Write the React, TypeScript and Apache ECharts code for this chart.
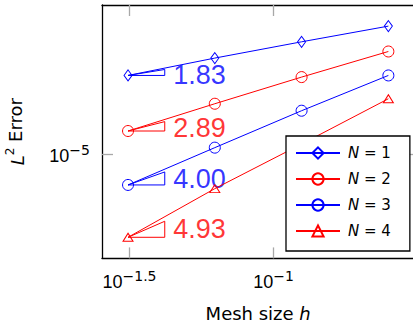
import React, { useEffect, useRef } from "react";
import * as echarts from "echarts";

// Mesh sizes h and L2 errors per polynomial degree N
const H = [1 / 32, 1 / 16, 1 / 8, 1 / 4];
const ERR_N1 = [3.12e-3, 1.107e-2, 3.63e-2, 0.114];
const ERR_N2 = [5.42e-5, 3.96e-4, 2.77e-3, 1.79e-2];
const ERR_N3 = [1.06e-6, 1.61e-5, 2.38e-4, 3.12e-3];
const ERR_N4 = [2.33e-8, 8.09e-7, 2.09e-5, 5.7e-4];
const RATES = [1.83, 2.89, 4.0, 4.93];
const SERIES_NAMES = ["N=1", "N=2", "N=3", "N=4"];
const X_TICKS = [-1.5, -1]; // log10 of h
const Y_TICKS = [-5]; // log10 of error

const BLUE = "#0000ff";
const RED = "#ff0000";
const FONT = "DejaVu Sans";
const FONT2 = "Liberation Sans";

export default function App() {
  const ref = useRef<HTMLDivElement>(null);
  useEffect(() => {
    if (!ref.current) return;
    const chart = echarts.init(ref.current, null, { renderer: "svg" });
    const errs = [ERR_N1, ERR_N2, ERR_N3, ERR_N4];
    const colors = [BLUE, RED, BLUE, RED];
    const symbols = ["diamond", "circle", "circle", "triangle"];
    const sizes: any[] = [[8, 11], 11, 11, [10, 8]];
    const lx = H.map((h) => Math.log10(h));
    const ly = errs.flat().map((e) => Math.log10(e));
    const xR = Math.max(...lx) - Math.min(...lx);
    const yR = Math.max(...ly) - Math.min(...ly);
    const xMin = Math.min(...lx) - 0.1 * xR;
    const xMax = Math.max(...lx) + 0.1 * xR;
    const yMin = Math.min(...ly) - 0.1 * yR;
    const yMax = Math.max(...ly) + 0.1 * yR;

    const fmtExp = (v: number) => (v < 0 ? "\u2212" : "") + String(Math.abs(v));
    const richLabel = {
      b: { fontSize: 18, fontFamily: FONT2, color: "#000", lineHeight: 22, verticalAlign: "bottom" },
      s: { fontSize: 14, fontFamily: FONT, color: "#000", lineHeight: 12, verticalAlign: "top" },
    };

    const triW = 0.1274;
    const series: any[] = [];
    errs.forEach((err, i) => {
      series.push({
        type: "line",
        name: SERIES_NAMES[i],
        data: H.map((h, j) => [Math.log10(h), Math.log10(err[j])]),
        symbol: symbols[i],
        symbolSize: sizes[i],
        showSymbol: true,
        lineStyle: { color: colors[i], width: 1 },
        itemStyle: { color: "rgba(0,0,0,0)", borderColor: colors[i], borderWidth: 1 },
        z: 3,
      });
      const x1 = Math.log10(H[0]);
      const y1 = Math.log10(err[0]);
      const th = RATES[i] * 0.103;
      series.push({
        type: "line",
        name: "tri" + i,
        data: [
          [x1, y1],
          [x1 + triW, y1],
          [x1 + triW, y1 + th],
          [x1, y1],
        ],
        symbol: "none",
        lineStyle: { color: colors[i], width: 1 },
        z: 2,
      });
      series.push({
        type: "scatter",
        name: "lab" + i,
        data: [[x1 + triW, y1 + (RATES[i] - 1.6) * 0.08]],
        symbolSize: 1,
        itemStyle: { color: "rgba(0,0,0,0)" },
        label: {
          show: true,
          position: "right",
          distance: 8,
          formatter: RATES[i].toFixed(2),
          fontSize: 27,
          fontFamily: FONT2,
          color: colors[i],
        },
        z: 2,
      });
    });

    const frameLine = { show: true, lineStyle: { color: "#000", width: 1.3 } };
    const tickStyle = { color: "#a8a8a8", width: 1.3 };

    chart.setOption({
      animation: false,
      backgroundColor: "#fff",
      grid: {
        left: 102,
        top: 5,
        width: 312.4,
        height: 253.4,
        containLabel: false,
        outerBoundsMode: "none",
      },
      xAxis: [
        {
          type: "value",
          min: xMin,
          max: xMax,
          position: "bottom",
          axisLine: frameLine,
          splitLine: { show: false },
          axisTick: { show: true, inside: true, length: 11, customValues: X_TICKS, lineStyle: tickStyle },
          axisLabel: {
            show: true,
            margin: 11,
            fontSize: 18,
            fontFamily: FONT2,
            color: "#000",
            customValues: X_TICKS,
            formatter: (v: number) => `{b|10}{s|${fmtExp(v)}}`,
            rich: richLabel,
          },
          name: "Mesh size {i|h}",
          nameLocation: "middle",
          nameGap: 46,
          nameTextStyle: {
            fontSize: 18,
            fontFamily: FONT,
            color: "#000",
            rich: { i: { fontSize: 18, fontFamily: FONT, fontStyle: "italic", color: "#000" } },
          },
        },
        {
          type: "value",
          min: xMin,
          max: xMax,
          position: "top",
          axisLine: frameLine,
          splitLine: { show: false },
          axisTick: { show: true, inside: true, length: 11, customValues: X_TICKS, lineStyle: tickStyle },
          axisLabel: { show: false },
        },
      ],
      yAxis: [
        {
          type: "value",
          min: yMin,
          max: yMax,
          position: "left",
          axisLine: frameLine,
          splitLine: { show: false },
          axisTick: { show: true, inside: true, length: 11, customValues: Y_TICKS, lineStyle: tickStyle },
          axisLabel: {
            show: true,
            margin: 12,
            fontSize: 18,
            fontFamily: FONT2,
            color: "#000",
            customValues: Y_TICKS,
            formatter: (v: number) => `{b|10}{s|${fmtExp(v)}}`,
            rich: richLabel,
          },
          name: "{i|L}{s|2} Error",
          nameLocation: "middle",
          nameRotate: 90,
          nameGap: 76,
          nameTextStyle: {
            fontSize: 18,
            fontFamily: FONT,
            color: "#000",
            rich: {
              i: { fontSize: 18, fontFamily: FONT, fontStyle: "italic", color: "#000", lineHeight: 22, verticalAlign: "bottom" },
              s: { fontSize: 12, fontFamily: FONT, color: "#000", lineHeight: 12, verticalAlign: "top" },
            },
          },
        },
        {
          type: "value",
          min: yMin,
          max: yMax,
          position: "right",
          axisLine: frameLine,
          splitLine: { show: false },
          axisTick: { show: true, inside: true, length: 11, customValues: Y_TICKS, lineStyle: tickStyle },
          axisLabel: { show: false },
        },
      ],
      legend: {
        data: SERIES_NAMES,
        orient: "vertical",
        left: 286,
        top: 136,
        padding: [9, 19, 12, 9],
        itemGap: 10,
        itemWidth: 44,
        itemHeight: 14,
        backgroundColor: "#fff",
        borderColor: "#000",
        borderWidth: 1.3,
        borderRadius: 0,
        formatter: (name: string) => `{i|N} = ${name.split("=")[1]}`,
        textStyle: {
          fontSize: 15,
          fontFamily: FONT,
          color: "#000",
          lineHeight: 16,
          padding: [0, 0, 0, 3],
          rich: { i: { fontSize: 15, fontFamily: FONT, fontStyle: "italic", color: "#000" } },
        },
        z: 10,
      },
      series,
    });
    return () => chart.dispose();
  }, []);
  return (
    <div
      ref={ref}
      style={{ position: "fixed", left: 0, top: 0, width: 413, height: 324, background: "#fff" }}
    />
  );
}
